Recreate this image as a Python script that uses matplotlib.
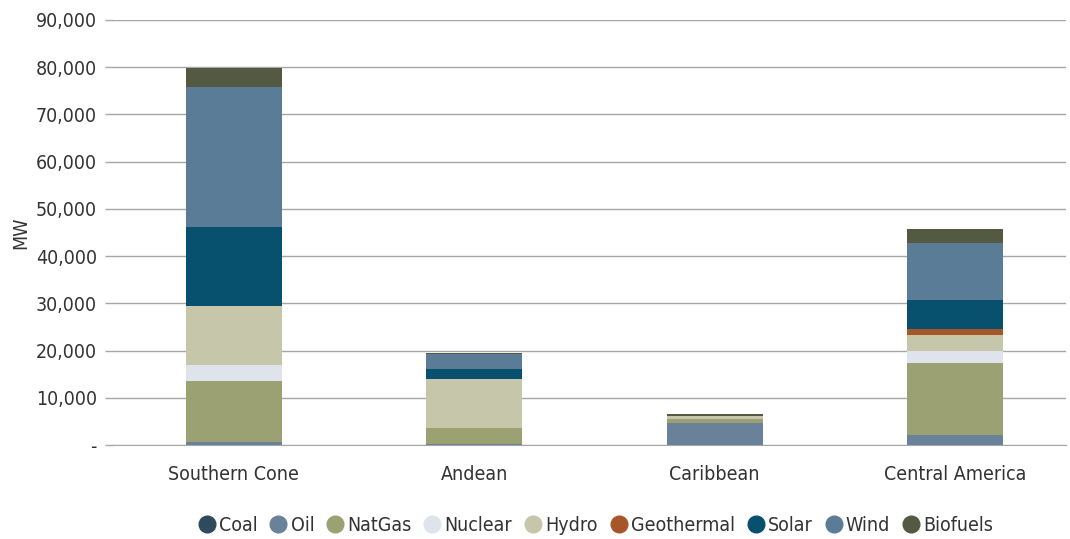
import numpy as np
import matplotlib
matplotlib.use("Agg")
import matplotlib.pyplot as plt
from matplotlib import font_manager
from matplotlib.ticker import FuncFormatter
from matplotlib.lines import Line2D

# prefer a narrow face if one is installed
names = {(f.name, f.stretch) for f in font_manager.fontManager.ttflist}
if any(n == "Liberation Sans Narrow" for n, s in names):
    plt.rcParams["font.family"] = ["Liberation Sans Narrow", "DejaVu Sans"]
elif ("DejaVu Sans", "condensed") in names or ("DejaVu Sans", "semi-condensed") in names:
    plt.rcParams["font.family"] = ["DejaVu Sans"]
    plt.rcParams["font.stretch"] = "condensed"
else:
    plt.rcParams["font.family"] = ["DejaVu Sans"]

regions = ["Southern Cone", "Andean", "Caribbean", "Central America"]
sources = ["Coal", "Oil", "NatGas", "Nuclear", "Hydro", "Geothermal", "Solar", "Wind", "Biofuels"]

# MW by source, one list per source in region order
coal       = [0, 0, 0, 100]
oil        = [700, 300, 4600, 2000]
natgas     = [12850, 3400, 1050, 15300]
nuclear    = [3450, 0, 0, 2500]
hydro      = [12400, 10300, 450, 3500]
geothermal = [0, 100, 0, 1100]
solar      = [16700, 2000, 0, 6200]
wind       = [29800, 3150, 100, 12000]
biofuels   = [3900, 300, 400, 3000]

colors = ["#2f4a5c", "#6a8299", "#9ba172", "#dfe3ec", "#c6c6ab",
          "#a6572a", "#07506e", "#5a7c97", "#545a42"]

series = [coal, oil, natgas, nuclear, hydro, geothermal, solar, wind, biofuels]

fig = plt.figure(figsize=(10.7, 5.39), dpi=100)
ax = fig.add_axes([0.106, 0.174, 0.89, 0.789])

x = np.arange(len(regions))
bottom = np.zeros(len(regions))
for name, vals, c in zip(sources, series, colors):
    ax.bar(x, vals, 0.4, bottom=bottom, color=c, label=name, zorder=3)
    bottom += np.array(vals)

ax.set_ylim(0, 90000)
ax.set_xlim(-0.5, 3.46)
ax.set_yticks(np.arange(0, 90001, 10000))
ax.yaxis.set_major_formatter(FuncFormatter(lambda v, p: "-" if v == 0 else f"{int(v):,}"))
ax.yaxis.grid(True, color="#a6a6a6", linewidth=1, zorder=0)
ax.tick_params(axis="y", length=6, width=1, color="#a6a6a6", labelsize=14, labelcolor="#333333", pad=6)
ax.tick_params(axis="x", length=0, labelsize=14, labelcolor="#333333", pad=14)
ax.set_xticks(x)
ax.set_xticklabels(regions)
for s in ["top", "right", "left"]:
    ax.spines[s].set_visible(False)
ax.spines["bottom"].set_color("#a6a6a6")
ax.set_ylabel("MW", fontsize=14, color="#333333", labelpad=4)

handles = [Line2D([0], [0], marker="o", color="none", markerfacecolor=c, markeredgecolor=c,
                  markersize=12) for c in colors]
fig.legend(handles, sources, loc="lower center", bbox_to_anchor=(0.555, -0.025), ncol=9,
           frameon=False, fontsize=14, handletextpad=0.0, columnspacing=0.45,
           labelcolor="#333333", handlelength=1.25)

fig.savefig("out.png", dpi=100)
